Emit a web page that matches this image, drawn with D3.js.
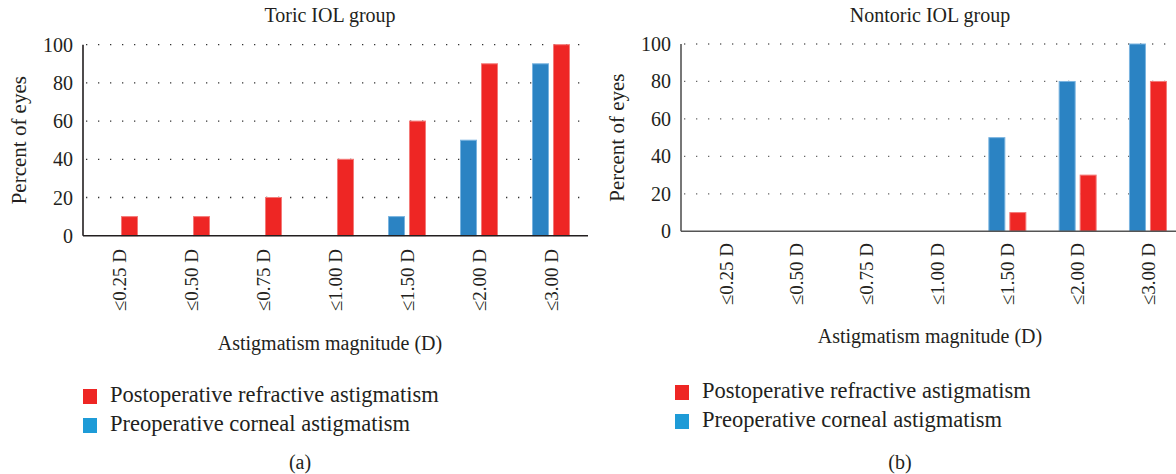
<!DOCTYPE html>
<html>
<head>
<meta charset="utf-8">
<script src="https://cdn.jsdelivr.net/npm/d3@7"></script>
<style>
  body { margin: 0; background: #fff; }
  svg { display: block; font-family: "Liberation Serif", "DejaVu Serif", serif; }
  .grid { stroke: #333; stroke-width: 1.3; stroke-dasharray: 1.3 10.7; }
</style>
</head>
<body>
<svg id="chart" width="1176" height="474"></svg>
<script>
const categories = ['≤0.25 D', '≤0.50 D', '≤0.75 D', '≤1.00 D', '≤1.50 D', '≤2.00 D', '≤3.00 D'];
const seriesKeys = ['pre', 'post'];
const legendLabels = ['Postoperative refractive astigmatism', 'Preoperative corneal astigmatism'];
const yTicks = [0, 20, 40, 60, 80, 100];

const toricPre = [0, 0, 0, 0, 10, 50, 90];
const toricPost = [10, 10, 20, 40, 60, 90, 100];
const nontoricPre = [0, 0, 0, 0, 50, 80, 100];
const nontoricPost = [0, 0, 0, 0, 10, 30, 80];

const BAR_COLORS = { pre: '#2b83c3', post: '#ee2624' };
const BAR_EDGES = { pre: '#7ab4e0', post: '#f47a78' };
const LEGEND_COLORS = { post: '#ee2624', pre: '#1e9bd7' };
const TEXT = '#231f20';

const svg = d3.select('#chart');

function drawPanel(opts) {
  const { title, caption, pre, post, axisX, bandX0, bandW, yTop, yBase, gridRight,
    centerX, axisColor, gridColor, labelTop, xTitleY, legendX, legendY } = opts;

  const g = svg.append('g');

  const x = d3.scaleBand()
    .domain(categories)
    .range([bandX0, bandX0 + bandW * categories.length])
    .paddingInner(0)
    .paddingOuter(0);

  const xInner = d3.scaleBand()
    .domain(seriesKeys)
    .range([bandW / 2 - 18.5, bandW / 2 + 18.5])
    .paddingInner(0.238);

  const y = d3.scaleLinear()
    .domain([0, 100])
    .range([yBase, yTop]);

  // dotted grid
  g.append('g')
    .selectAll('line')
    .data(yTicks.filter((d) => d > 0))
    .enter()
      .append('line')
      .attr('class', 'grid')
      .style('stroke', gridColor)
      .attr('x1', axisX + 3)
      .attr('x2', gridRight)
      .attr('y1', (d) => y(d))
      .attr('y2', (d) => y(d));

  // bars
  const rows = categories.map((c, i) => ({ cat: c, pre: pre[i], post: post[i] }));
  g.append('g')
    .selectAll('g')
    .data(rows)
    .enter()
      .append('g')
      .attr('transform', (d) => `translate(${x(d.cat)},0)`)
      .selectAll('rect')
      .data((d) => seriesKeys.map((k) => ({ key: k, value: d[k] })).filter((d) => d.value > 0))
      .enter()
        .append('rect')
        .attr('x', (d) => xInner(d.key))
        .attr('width', xInner.bandwidth())
        .attr('y', (d) => y(d.value))
        .attr('height', (d) => y(0) - y(d.value))
        .attr('fill', (d) => BAR_COLORS[d.key])
        .attr('stroke', (d) => BAR_EDGES[d.key])
        .attr('stroke-width', 1);

  // axes lines
  g.append('line')
    .attr('x1', axisX).attr('x2', axisX)
    .attr('y1', y(100)).attr('y2', y(0))
    .attr('stroke', axisColor).attr('stroke-width', 1.6);
  g.append('line')
    .attr('x1', axisX).attr('x2', gridRight)
    .attr('y1', y(0)).attr('y2', y(0))
    .attr('stroke', axisColor).attr('stroke-width', 1.6);

  // y tick labels
  g.append('g')
    .selectAll('text')
    .data(yTicks)
    .enter()
      .append('text')
      .attr('x', axisX - 10)
      .attr('y', (d) => y(d))
      .attr('dy', '0.35em')
      .attr('text-anchor', 'end')
      .attr('font-size', 20)
      .attr('fill', TEXT)
      .text((d) => d);

  // x tick labels (rotated)
  g.append('g')
    .selectAll('text')
    .data(categories)
    .enter()
      .append('text')
      .attr('transform', (d) => `translate(${x(d) + bandW / 2},${labelTop}) rotate(-90)`)
      .attr('dy', '0.35em')
      .attr('text-anchor', 'end')
      .attr('font-size', 19)
      .attr('fill', TEXT)
      .text((d) => d);

  // titles
  g.append('text')
    .attr('x', centerX).attr('y', 22)
    .attr('text-anchor', 'middle')
    .attr('font-size', 20)
    .attr('fill', TEXT)
    .text(title);

  g.append('text')
    .attr('transform', `translate(${axisX - 57},${(y(0) + y(100)) / 2}) rotate(-90)`)
    .attr('text-anchor', 'middle')
    .attr('font-size', 21)
    .attr('fill', TEXT)
    .text('Percent of eyes');

  g.append('text')
    .attr('x', centerX).attr('y', xTitleY)
    .attr('text-anchor', 'middle')
    .attr('font-size', 20)
    .attr('fill', TEXT)
    .text('Astigmatism magnitude (D)');

  // legend
  const legend = g.append('g')
    .selectAll('g')
    .data(['post', 'pre'])
    .enter()
      .append('g')
      .attr('transform', (d, i) => `translate(${legendX},${legendY + i * 29})`);
  legend.append('rect')
    .attr('width', 14).attr('height', 15)
    .attr('fill', (d) => LEGEND_COLORS[d]);
  legend.append('text')
    .attr('x', 27).attr('y', 13)
    .attr('font-size', 22.5)
    .attr('fill', TEXT)
    .text((d, i) => legendLabels[i]);

  g.append('text')
    .attr('x', centerX - 30).attr('y', 469)
    .attr('text-anchor', 'middle')
    .attr('font-size', 20)
    .attr('fill', TEXT)
    .text(caption);
}

drawPanel({
  title: 'Toric IOL group', caption: '(a)', pre: toricPre, post: toricPost,
  axisX: 83, bandX0: 83, bandW: 72, yTop: 44.7, yBase: 235.7, gridRight: 588,
  centerX: 330, axisColor: TEXT, gridColor: '#333', labelTop: 249,
  xTitleY: 350, legendX: 83, legendY: 389,
});

drawPanel({
  title: 'Nontoric IOL group', caption: '(b)', pre: nontoricPre, post: nontoricPost,
  axisX: 681, bandX0: 691, bandW: 70.3, yTop: 44, yBase: 231.3, gridRight: 1176,
  centerX: 930, axisColor: '#555', gridColor: '#666', labelTop: 243,
  xTitleY: 343, legendX: 675, legendY: 385,
});
</script>
</body>
</html>
